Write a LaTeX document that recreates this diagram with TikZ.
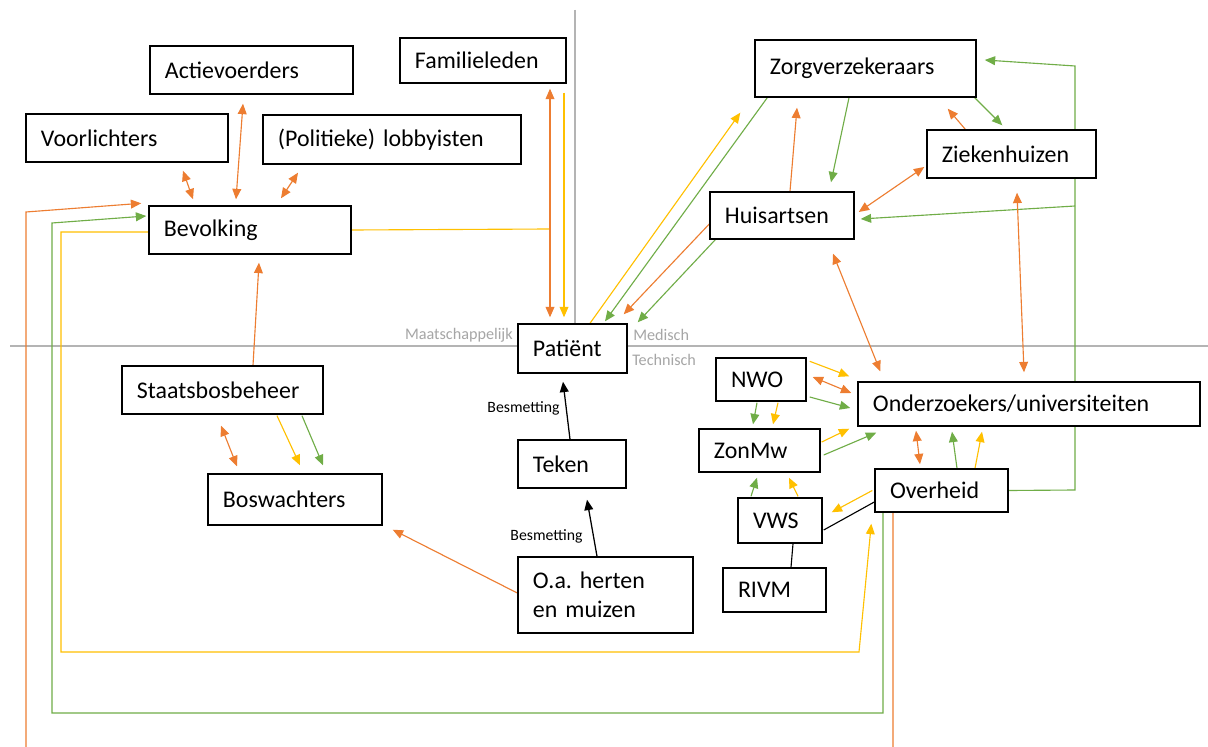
\documentclass[tikz,border=0pt]{standalone}
\usepackage{fontspec}
\setmainfont{Carlito}
\usetikzlibrary{arrows.meta,calc,backgrounds}
\definecolor{orng}{HTML}{ED7D31}
\definecolor{grn}{HTML}{70AD47}
\definecolor{ylw}{HTML}{FFC000}
\definecolor{lgray}{HTML}{B4B4B4}
\definecolor{tgray}{HTML}{A6A6A6}
\newcommand{\bxfont}{\fontsize{17}{20.5}\selectfont}
\newcommand{\lblfont}{\fontsize{11.2}{13}\selectfont}
\newcommand{\grfont}{\fontsize{11.5}{13}\selectfont}
\frenchspacing

\begin{document}
\begin{tikzpicture}[x=0.025cm,y=-0.025cm,
        tri/.tip={Triangle[length=0.26cm,width=0.22cm]},
        box/.style={rectangle,draw,fill=white,line width=1pt,inner xsep=0.375cm,inner ysep=0pt,align=left,minimum height=1.2cm,font=\bxfont},
        oarr/.style={orng,line width=0.8pt,-tri},
        oboth/.style={orng,line width=0.8pt,tri-tri},
        garr/.style={grn,line width=0.8pt,-tri},
        yarr/.style={ylw,line width=0.8pt,-tri},
        barr/.style={black,line width=0.9pt,-tri},
        divider/.style={lgray,line width=1.2pt},
        greytxt/.style={text=tgray,font=\grfont,inner sep=0pt}]
        \useasboundingbox (0,0) rectangle (1208,747);

        \node at (251.5,70) [box,text width=4.325cm] (act) {Actievoerders};
        \node at (483,60.5) [box,text width=3.4cm,minimum height=1.125cm] (fam) {Familieleden};
        \node at (127,138) [box,text width=4.3cm] (voor) {Voorlichters};
        \node at (392,139.5) [box,text width=5.7cm,minimum height=1.225cm] (lob) {(Politieke) lobbyisten};
        \node at (250,230) [box,text width=4.3cm] (bev) {Bevolking};

        \node at (572.5,348.5) [box,text width=1.975cm,minimum height=1.225cm] (pat) {Patiënt};
        \node at (572,464) [box,text width=1.95cm] (teken) {Teken};
        \node at (605.5,595) [box,text width=3.625cm,minimum height=1.9cm] (dier) {O.a. herten\\en muizen};
        \node at (523.5,408) [font=\lblfont,inner sep=0pt] (bes1) {Besmetting};
        \node at (546.5,536) [font=\lblfont,inner sep=0pt] (bes2) {Besmetting};

        \node at (222.5,390) [box,text width=4.275cm] (sbb) {Staatsbosbeheer};
        \node at (295,499.5) [box,text width=3.6cm,minimum height=1.275cm] (bos) {Boswachters};

        \node at (865.5,68.5) [box,text width=4.775cm,minimum height=1.425cm] (zv) {Zorgverzekeraars};
        \node at (1011.5,154) [box,text width=3.475cm] (zh) {Ziekenhuizen};
        \node at (782,215.5) [box,text width=2.85cm,minimum height=1.175cm] (ha) {Huisartsen};

        \node at (761,379.5) [box,text width=1.5cm,minimum height=1.075cm] (nwo) {NWO};
        \node at (759.5,450.5) [box,text width=2.275cm,minimum height=1.075cm] (zon) {ZonMw};
        \node at (780,520.5) [box,text width=1.35cm,minimum height=1.125cm] (vws) {VWS};
        \node at (774.5,590) [box,text width=1.825cm,minimum height=1.1cm] (rivm) {RIVM};
        \node at (941.5,490.5) [box,text width=2.575cm,minimum height=1.075cm] (ov) {Overheid};
        \node at (1029,404) [box,text width=7.8cm,minimum height=1.1cm] (ond) {Onderzoekers/universiteiten};

        \node at (513,335) [greytxt,anchor=east] (maat) {Maatschappelijk};
        \node at (633,335) [greytxt,anchor=west] (med) {Medisch};
        \node at (632,360) [greytxt,anchor=west] (tech) {Technisch};

        \begin{scope}[on background layer]
        \fill[white] (0,0) rectangle (1208,747);
        \draw[divider] (575,10) -- (575,346);
        \draw[divider] (10,346) -- (1208,346);

        % maatschappelijk
        \draw[oboth] ($(voor.south)+(56,8)$) -- ($(bev.north)+(-57,-6)$);
        \draw[oboth] ($(act.south)+(-8.5,9)$) -- ($(bev.north)+(-14,-6)$);
        \draw[oboth] ($(lob.south)+(-94,8)$) -- ($(bev.north)+(31,-7)$);
        \coordinate (fy) at (550,229);
        \draw[ylw,line width=0.8pt] (bev.east) -- (fy);
        \draw[oboth] ($(fam.south)+(67,5)$) -- ($(pat.north)+(-22.5,-6)$);
        \draw[yarr] ($(fam.south)+(81,9)$) -- ($(pat.north)+(-8.5,-6)$);

        \draw[oarr] ($(ov.south)+(-48.5,0)$) -- ++(0,260) -| (26,212) -- ($(bev.north west)+(-7,-2)$);
        \draw[garr] ($(ov.south)+(-58.5,0)$) |- (52,713) -- (52,223) -- ($(bev.west)+(-2,-14)$);
        \draw[yarr] ($(bev.west)+(0,2)$) -- (61,232) -- (61,652) -- (859,652) -- ($(ov.south west)+(-3,11)$);

        \draw[barr] ($(teken.north)+(-2,0)$) -- ($(pat.south)+(-9.5,8)$);
        \draw[barr] ($(dier.north)+(-8.5,0)$) -- ($(teken.south)+(15,11)$);
        \draw[oarr] ($(dier.west)+(0,-2)$) -- ($(bos.south east)+(10,4)$);
        \draw[oboth] ($(sbb.south)+(-1.5,11)$) -- ($(bos.north)+(-58,-7)$);
        \draw[yarr] ($(sbb.south)+(54.5,1)$) -- ($(bos.north)+(5,-8)$);
        \draw[garr] ($(sbb.south)+(79.5,1)$) -- ($(bos.north)+(28,-8)$);
        \draw[oarr] ($(sbb.north)+(30.5,0)$) -- ($(bev.south)+(9,8)$);

        % medisch
        \draw[yarr] ($(pat.north)+(17.5,0)$) -- ($(zv.south west)+(-14,15)$);
        \draw[garr] ($(zv.south west)+(13,0)$) -- ($(pat.north)+(32.5,-2)$);
        \draw[oarr] ($(ha.west)+(0,8.5)$) -- ($(pat.north east)+(-4,-9)$);
        \draw[garr] ($(ha.south west)+(6,0)$) -- ($(pat.north east)+(10,-1)$);
        \draw[oarr] ($(ha.north)+(8,0)$) -- ($(zv.south)+(-68.5,10)$);
        \draw[garr] ($(zv.south)+(-16.5,0)$) -- ($(ha.north)+(49,-9)$);
        \draw[oarr] ($(zh.north west)+(39,0)$) -- ($(zv.south east)+(-29,11)$);
        \draw[garr] ($(zv.south east)+(-2,0)$) -- ($(zh.north west)+(76,-4)$);
        \draw[oboth] ($(zh.west)+(-2,13)$) -- ($(ha.east)+(4,-3.5)$);
        \draw[garr] (ov.east) -- (1075,490) -- (1075,66) -- ($(zv.east)+(8,-8.5)$);
        \coordinate (gb) at (1075,206);
        \draw[garr] (gb) -- ($(ha.east)+(6,3.5)$);

        % technisch
        \draw[oboth] ($(ha.south)+(51,14)$) -- ($(ond.north west)+(23,-10)$);
        \draw[oboth] ($(zh.south)+(5.5,14)$) -- ($(ond.north)+(-5,-9)$);
        \draw[yarr] ($(nwo.north east)+(3,4)$) -- ($(ond.north west)+(-8,-5)$);
        \draw[oboth] ($(nwo.east)+(6,-2.5)$) -- ($(ond.west)+(-6,-11)$);
        \draw[garr] ($(nwo.east)+(3,17.5)$) -- ($(ond.west)+(-7,4)$);
        \draw[garr] ($(nwo.south)+(-4,1)$) -- ($(zon.north)+(-6.5,-4)$);
        \draw[yarr] ($(nwo.south)+(17,1)$) -- ($(zon.north)+(13.5,-4)$);
        \draw[yarr] ($(zon.east)+(1,-8.5)$) -- ($(ond.south west)+(-8,2)$);
        \draw[garr] ($(zon.east)+(3,4.5)$) -- ($(ond.south west)+(19,6)$);
        \draw[garr] ($(vws.north)+(-29,-1)$) -- ($(zon.south)+(-2.5,5)$);
        \draw[yarr] ($(vws.north)+(18,-1)$) -- ($(zon.south)+(29.5,5)$);
        \draw[yarr] ($(ov.west)+(-2,0)$) -- ($(vws.north east)+(9,15)$);
        \draw[thick] ($(vws.east)+(1,9.5)$) -- ($(ov.west)+(0,11.5)$);
        \draw[thick] ($(vws.south)+(13,0)$) -- ($(rivm.north)+(16.5,0)$);
        \draw[oboth] ($(ov.north)+(-21.5,-4)$) -- ($(ond.south)+(-113,4)$);
        \draw[garr] ($(ov.north)+(15.5,0)$) -- ($(ond.south)+(-77,5)$);
        \draw[yarr] ($(ov.north)+(33.5,0)$) -- ($(ond.south)+(-47,5)$);
        \end{scope}
\end{tikzpicture}
\end{document}
